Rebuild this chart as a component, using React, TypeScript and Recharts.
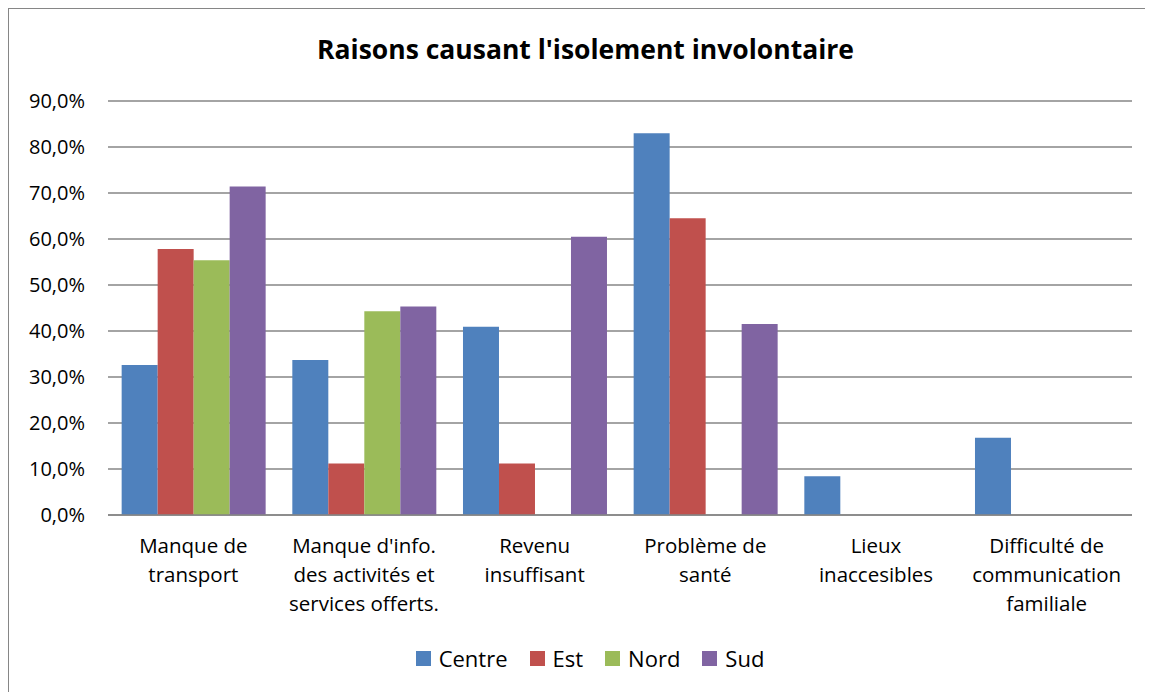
import React from "react";
import { BarChart, Bar, XAxis, YAxis, CartesianGrid } from "recharts";

const categories = [
  "Manque de\ntransport",
  "Manque d'info.\ndes activités et\nservices offerts.",
  "Revenu\ninsuffisant",
  "Problème de\nsanté",
  "Lieux\ninaccesibles",
  "Difficulté de\ncommunication\nfamiliale",
];
const centre = [32.6, 33.7, 40.9, 83.0, 8.4, 16.8];
const est = [57.8, 11.2, 11.2, 64.5, 0, 0];
const nord = [55.4, 44.3, 0, 0, 0, 0];
const sud = [71.4, 45.3, 60.5, 41.5, 0, 0];
const yTicks = [0, 10, 20, 30, 40, 50, 60, 70, 80, 90];

const seriesNames = ["Centre", "Est", "Nord", "Sud"];
const seriesColors = ["#4F81BD", "#C0504D", "#9BBB59", "#8064A2"];
const seriesKeys = ["centre", "est", "nord", "sud"];

const data = categories.map((c, i) => ({
  name: c,
  centre: centre[i],
  est: est[i],
  nord: nord[i],
  sud: sud[i],
}));

const FONT = "'Open Sans', sans-serif";

const XTick = (props: any) => {
  const { x, y, payload } = props;
  const lines = String(payload.value).split("\n");
  return (
    <g transform={`translate(${x},${y})`}>
      <text textAnchor="middle" fill="#000" fontSize={20.5} fontFamily={FONT}>
        {lines.map((l, i) => (
          <tspan key={i} x={0} dy={i === 0 ? 30 : 29}>
            {l}
          </tspan>
        ))}
      </text>
    </g>
  );
};

export default function App() {
  return (
    <div
      style={{
        position: "relative",
        width: 1150,
        height: 690,
        border: "1px solid #868686",
        boxSizing: "border-box",
        background: "#fff",
        fontFamily: FONT,
      }}
    >
      <div
        style={{
          position: "absolute",
          top: 22,
          left: 0,
          width: 1153,
          textAlign: "center",
          fontSize: 26.5,
          fontWeight: "bold",
          color: "#000",
        }}
      >
        Raisons causant l'isolement involontaire
      </div>
      <BarChart
        width={1145}
        height={684}
        data={data}
        margin={{ top: 92, right: 22, bottom: 148, left: 0 }}
        barCategoryGap="8%"
        barGap={0}
      >
        <CartesianGrid vertical={false} stroke="#868686" strokeWidth={1.5} />
        <XAxis
          dataKey="name"
          interval={0}
          tickLine={false}
          axisLine={{ stroke: "#868686", strokeWidth: 1.5 }}
          tick={<XTick />}
          height={30}
        />
        <YAxis
          domain={[0, 90]}
          ticks={yTicks}
          width={99}
          tickLine={false}
          axisLine={false}
          tickSize={0}
          tickMargin={23}
          tickFormatter={(v: number) => `${v.toFixed(1).replace(".", ",")}%`}
          tick={{ fill: "#000", fontSize: 20, fontFamily: FONT }}
        />
        {seriesKeys.map((k, i) => (
          <Bar
            key={k}
            dataKey={k}
            name={seriesNames[i]}
            fill={seriesColors[i]}
            isAnimationActive={false}
          />
        ))}
      </BarChart>
      <div
        style={{
          position: "absolute",
          top: 634,
          left: 0,
          width: 1162,
          display: "flex",
          justifyContent: "center",
          fontSize: 22,
          color: "#000",
          gap: 22,
        }}
      >
        {seriesNames.map((n, i) => (
          <div key={n} style={{ display: "flex", alignItems: "center" }}>
            <span
              style={{
                display: "inline-block",
                width: 15,
                height: 15,
                background: seriesColors[i],
                marginRight: 8,
              }}
            />
            <span>{n}</span>
          </div>
        ))}
      </div>
    </div>
  );
}
